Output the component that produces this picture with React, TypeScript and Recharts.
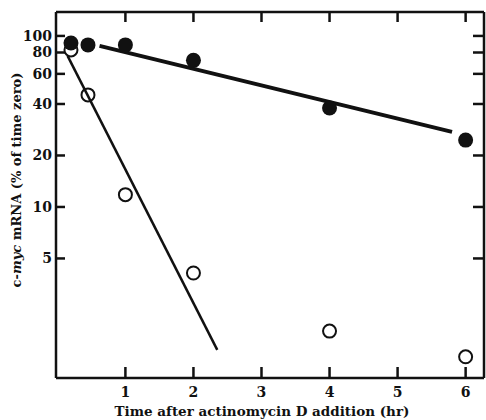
import React from "react";
import { ComposedChart, XAxis, YAxis, Scatter, Line, Label, ReferenceLine } from "recharts";

// hours after actinomycin D, % of time zero
const filledPoints = [
  { x: 0.2, y: 91 },
  { x: 0.45, y: 88.6 },
  { x: 1, y: 88.6 },
  { x: 2, y: 72 },
  { x: 4, y: 37.9 },
  { x: 6, y: 24.6 },
];
const openPoints = [
  { x: 0.2, y: 82.8 },
  { x: 0.45, y: 45.2 },
  { x: 1, y: 11.8 },
  { x: 2, y: 4.11 },
  { x: 4, y: 1.88 },
  { x: 6, y: 1.33 },
];
// fitted decay lines (end points)
const filledFit = [
  { x: 0.62, y: 87.5 },
  { x: 5.8, y: 27.5 },
];
const openFit = [
  { x: 0.15, y: 76.4 },
  { x: 2.35, y: 1.46 },
];

const xTicks = [1, 2, 3, 4, 5, 6];
const yTicks = [5, 10, 20, 40, 60, 80, 100];
const X_DOMAIN = [-0.02, 6.27];
const Y_DOMAIN = [1, 138];

// tick mark anchors on the four sides of the frame
const bottomMarks = xTicks.map((v) => ({ x: v, y: Y_DOMAIN[0] }));
const topMarks = xTicks.map((v) => ({ x: v, y: Y_DOMAIN[1] }));
const leftMarks = yTicks.map((v) => ({ x: X_DOMAIN[0], y: v }));
const rightMarks = yTicks.map((v) => ({ x: X_DOMAIN[1], y: v }));

const FONT = "'DejaVu Serif', 'Liberation Serif', serif";
const INK = "#111";
const axisStyle = { stroke: INK, strokeWidth: 2.5 };
const tickText = { fontFamily: FONT, fontWeight: "bold", fontSize: 14, fill: INK };

const LeftLabel = (p: any) => (
  <text x={p.x - 4} y={p.y + 5} textAnchor="end" style={tickText}>
    {p.payload.value}
  </text>
);
const BottomLabel = (p: any) => (
  <text x={p.x} y={p.y + 19} textAnchor="middle" style={tickText}>
    {p.payload.value}
  </text>
);

// short inward tick marks
const mark = (d: string) => <path d={d} stroke={INK} strokeWidth={2.5} fill="none" />;
const BottomMark = (p: any) => mark(`M${p.cx},${p.cy}v-11`);
const TopMark = (p: any) => mark(`M${p.cx},${p.cy}v10`);
const LeftMark = (p: any) => mark(`M${p.cx},${p.cy}h9`);
const RightMark = (p: any) => mark(`M${p.cx},${p.cy}h-11`);

const FilledDot = (p: any) => <circle cx={p.cx} cy={p.cy} r={7.5} fill={INK} />;
const OpenDot = (p: any) => <circle cx={p.cx} cy={p.cy} r={6.5} fill="none" stroke={INK} strokeWidth={2} />;

const YTitle = () => (
  <text
    transform="translate(21, 180) rotate(-90)"
    textAnchor="middle"
    fontFamily={FONT}
    fontWeight="bold"
    fontSize={13}
    fill={INK}
  >
    <tspan>c-</tspan>
    <tspan fontStyle="italic">myc</tspan>
    <tspan>{"  mRNA (% of time zero)"}</tspan>
  </text>
);

export default function App() {
  return (
    <div style={{ position: "absolute", left: 0, top: 0, background: "#fff" }}>
      <ComposedChart width={486} height={420} margin={{ top: 12, right: 2, bottom: 0, left: 0 }}>
        <XAxis
          xAxisId="b"
          type="number"
          dataKey="x"
          domain={X_DOMAIN}
          ticks={xTicks}
          interval={0}
          height={42}
          tickSize={0}
          tickMargin={0}
          tickLine={false}
          tick={BottomLabel}
          axisLine={axisStyle}
          allowDataOverflow
        >
          <Label
            value="Time after actinomycin D addition (hr)"
            position="insideBottom"
            offset={4}
            dx={-8}
            style={{ fontFamily: FONT, fontWeight: "bold", fontSize: 13.5, fill: INK }}
          />
        </XAxis>
        <YAxis
          yAxisId="l"
          type="number"
          dataKey="y"
          scale="log"
          domain={Y_DOMAIN}
          ticks={yTicks}
          interval={0}
          width={56}
          tickSize={0}
          tickMargin={0}
          tickLine={false}
          tick={LeftLabel}
          axisLine={axisStyle}
          allowDataOverflow
        >
          <Label content={<YTitle />} />
        </YAxis>

        {/* top and right sides of the frame */}
        <ReferenceLine xAxisId="b" yAxisId="l" y={Y_DOMAIN[1]} stroke={INK} strokeWidth={2.5} ifOverflow="visible" />
        <ReferenceLine xAxisId="b" yAxisId="l" x={X_DOMAIN[1]} stroke={INK} strokeWidth={2.5} ifOverflow="visible" />

        <Scatter xAxisId="b" yAxisId="l" data={bottomMarks} dataKey="y" shape={BottomMark} isAnimationActive={false} />
        <Scatter xAxisId="b" yAxisId="l" data={topMarks} dataKey="y" shape={TopMark} isAnimationActive={false} />
        <Scatter xAxisId="b" yAxisId="l" data={leftMarks} dataKey="y" shape={LeftMark} isAnimationActive={false} />
        <Scatter xAxisId="b" yAxisId="l" data={rightMarks} dataKey="y" shape={RightMark} isAnimationActive={false} />

        <Line
          xAxisId="b"
          yAxisId="l"
          data={filledFit}
          dataKey="y"
          type="linear"
          stroke={INK}
          strokeWidth={4}
          dot={false}
          activeDot={false}
          isAnimationActive={false}
        />
        <Line
          xAxisId="b"
          yAxisId="l"
          data={openFit}
          dataKey="y"
          type="linear"
          stroke={INK}
          strokeWidth={2.5}
          dot={false}
          activeDot={false}
          isAnimationActive={false}
        />
        <Scatter xAxisId="b" yAxisId="l" data={openPoints} dataKey="y" shape={OpenDot} isAnimationActive={false} />
        <Scatter xAxisId="b" yAxisId="l" data={filledPoints} dataKey="y" shape={FilledDot} isAnimationActive={false} />
      </ComposedChart>
    </div>
  );
}
